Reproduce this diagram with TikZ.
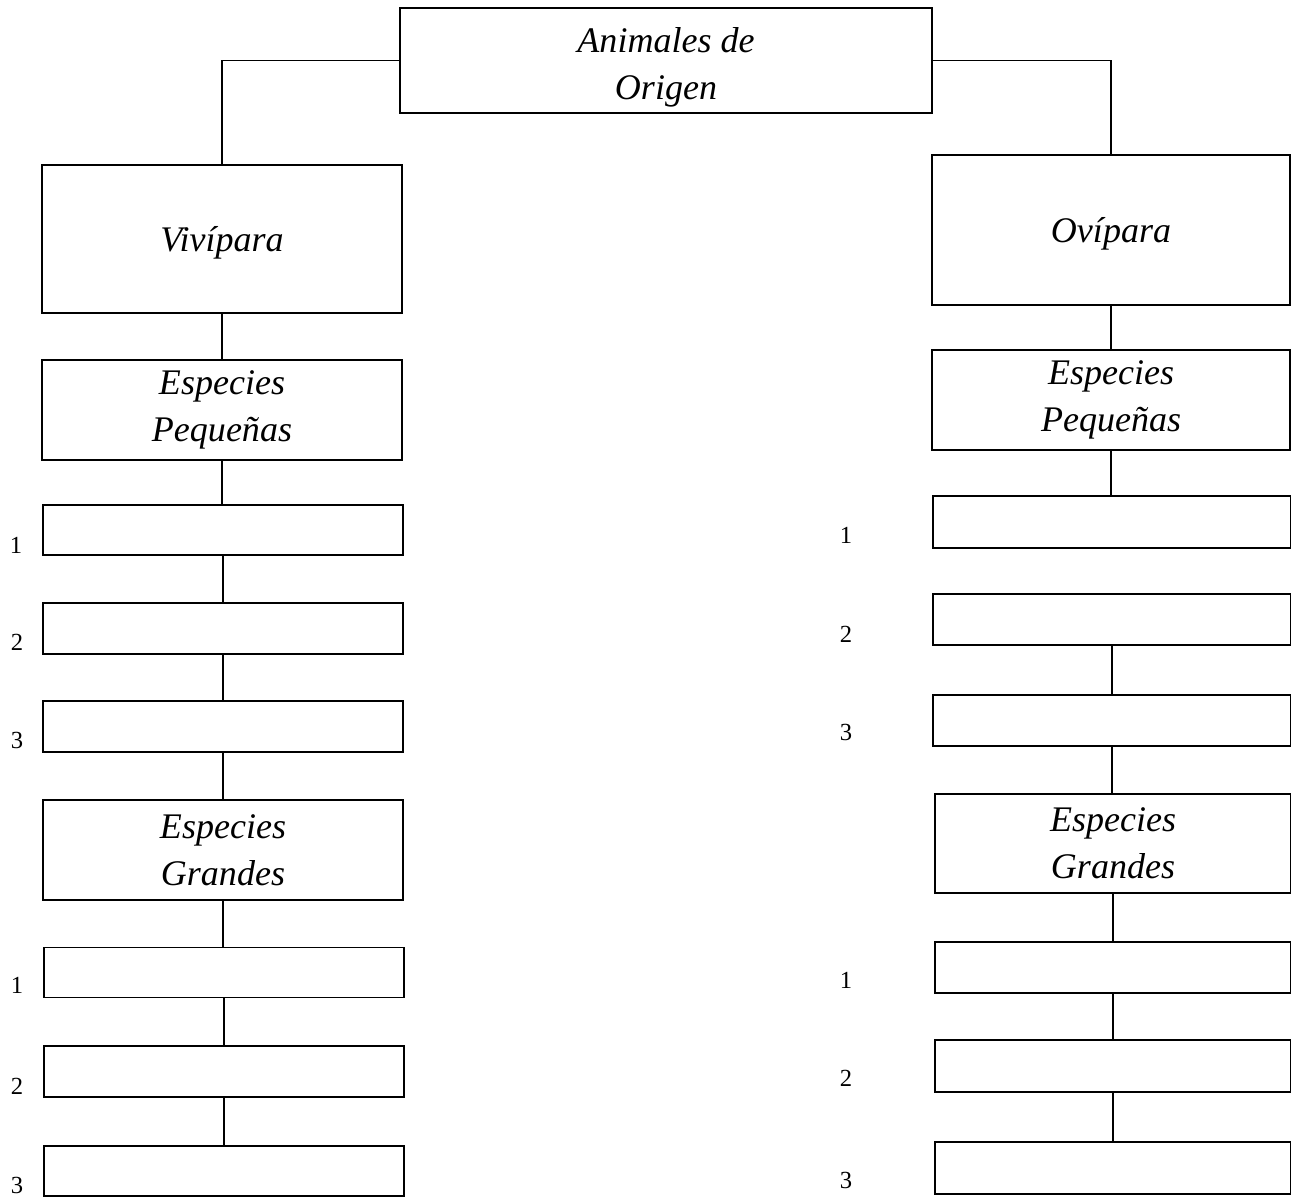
\documentclass[tikz,border=0pt]{standalone}
\usepackage{fontspec}
\setmainfont{Liberation Serif}
\begin{document}
\begin{tikzpicture}[x=0.02cm,y=-0.02cm,
  bx/.style 2 args={draw=black, line width=1.1pt, fill=white, inner sep=0pt, align=center,
    minimum width=#1*0.02cm, minimum height=#2*0.02cm,
    font=\fontsize{20.5}{27}\selectfont\itshape},
  num/.style={font=\fontsize{14}{16}\selectfont, inner sep=0pt},
  conn/.style={draw=black, line width=1.1pt}]
\useasboundingbox (0,0) rectangle (1291,1200);
\fill[white] (0,0) rectangle (1291,1200);

% top
\node[bx={532}{105}] (top) at (666,60.5) {\raisebox{-3.5pt}[\height][\depth]{\begin{tabular}{@{}c@{}}Animales de\\Origen\end{tabular}}};

% left column
\node[bx={360}{148}] (viv) at (222,239) {\raisebox{-2pt}[\height][\depth]{Vivípara}};
\node[bx={360}{100}] (lpq) at (222,410) {Especies\\Pequeñas};
\node[bx={360}{50}] (l1) at (223,530) {};
\node[bx={360}{51}] (l2) at (223,628.5) {};
\node[bx={360}{51}] (l3) at (223,726.5) {};
\node[bx={360}{100}] (lgr) at (223,850) {Especies\\Grandes};
\node[bx={360}{50}] (l4) at (224,972.5) {};
\node[bx={360}{51}] (l5) at (224,1071.5) {};
\node[bx={360}{50}] (l6) at (224,1171) {};

% right column
\node[bx={358}{150}] (ovi) at (1111,230) {\raisebox{-2pt}[\height][\depth]{Ovípara}};
\node[bx={358}{100}] (rpq) at (1111,400) {Especies\\Pequeñas};
\node[bx={358}{52}] (r1) at (1112,522) {};
\node[bx={358}{51}] (r2) at (1112,619.5) {};
\node[bx={358}{51}] (r3) at (1112,720.5) {};
\node[bx={356}{99}] (rgr) at (1113,843.5) {Especies\\Grandes};
\node[bx={356}{51}] (r4) at (1113,967.5) {};
\node[bx={356}{52}] (r5) at (1113,1066) {};
\node[bx={356}{52}] (r6) at (1113,1168) {};

% number labels
\node[num] (nl1) at (16,545) {1};
\node[num] (nl2) at (17,642) {2};
\node[num] (nl3) at (17,740) {3};
\node[num] (nl4) at (17,985) {1};
\node[num] (nl5) at (17,1086) {2};
\node[num] (nl6) at (17,1185) {3};
\node[num] (nr1) at (846,535) {1};
\node[num] (nr2) at (846,634) {2};
\node[num] (nr3) at (846,732) {3};
\node[num] (nr4) at (846,980) {1};
\node[num] (nr5) at (846,1078) {2};
\node[num] (nr6) at (846,1180) {3};

% connectors
\draw[conn] (top.west) -| (viv.north);
\draw[conn] (top.east) -| (ovi.north);
\draw[conn] (viv.south) -- (viv.south |- lpq.north);
\draw[conn] (lpq.south) -- (lpq.south |- l1.north);
\draw[conn] (l1.south) -- (l1.south |- l2.north);
\draw[conn] (l2.south) -- (l2.south |- l3.north);
\draw[conn] (l3.south) -- (l3.south |- lgr.north);
\draw[conn] (lgr.south) -- (lgr.south |- l4.north);
\draw[conn] (l4.south) -- (l4.south |- l5.north);
\draw[conn] (l5.south) -- (l5.south |- l6.north);
\draw[conn] (ovi.south) -- (ovi.south |- rpq.north);
\draw[conn] (rpq.south) -- (rpq.south |- r1.north);
\draw[conn] (r2.south) -- (r2.south |- r3.north);
\draw[conn] (r3.south) -- (r3.south |- rgr.north);
\draw[conn] (rgr.south) -- (rgr.south |- r4.north);
\draw[conn] (r4.south) -- (r4.south |- r5.north);
\draw[conn] (r5.south) -- (r5.south |- r6.north);
\end{tikzpicture}
\end{document}
